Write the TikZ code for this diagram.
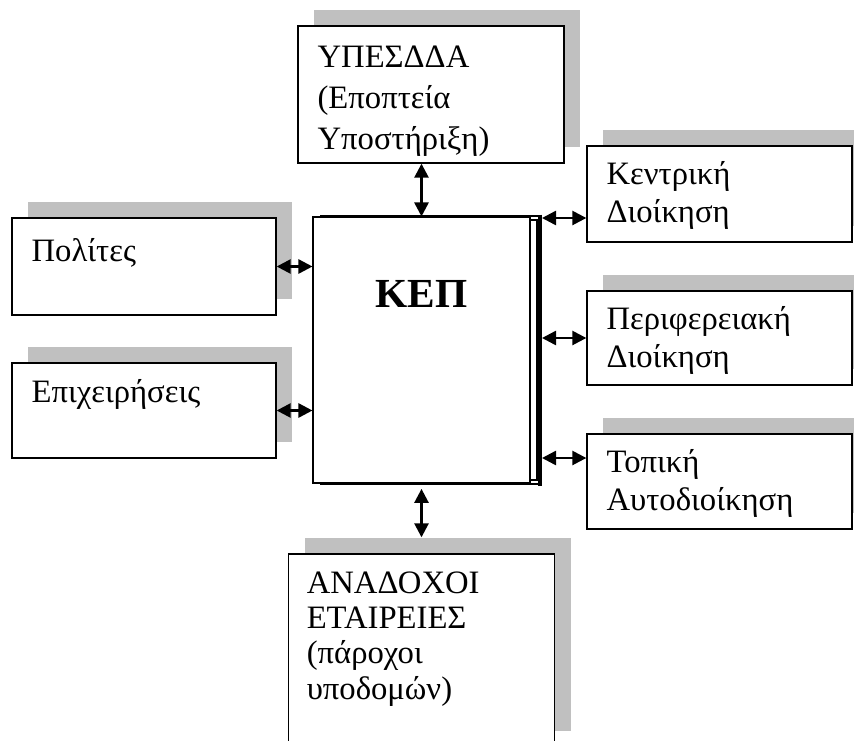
\documentclass[tikz,border=0pt]{standalone}
\usepackage{fontspec}
\setmainfont{Liberation Serif}
\usetikzlibrary{arrows.meta,shadows}
\definecolor{shadowgray}{RGB}{192,192,192}
\tikzset{
  unit/.style={draw=black, line width=1pt, fill=white, inner sep=0pt,
    general shadow={fill=shadowgray, shadow xshift=12pt, shadow yshift=12pt}},
  core/.style={draw=black, line width=0.8pt, fill=white, inner sep=0pt},
  boxtext/.style={anchor=north west, inner sep=0pt, align=left,
    font=\fontsize{24.5}{28.5}\selectfont},
  link/.style={line width=1.9pt,
    {Triangle[length=10.5pt,width=10.5pt]}-{Triangle[length=10.5pt,width=10.5pt]}},
}
\begin{document}
\begin{tikzpicture}[x=0.75pt,y=0.75pt,yscale=-1,xscale=1]
\useasboundingbox (0,0) rectangle (854,740);
\clip (0,0) rectangle (854,740);
%Shape: Main box
\node[core, minimum width=162.75pt, minimum height=199.5pt] (kep) at (421.5,350) {};
\draw[line width=0.8pt] (530,220) rectangle (537,480);
\draw[line width=2.2pt] (320,216) -- (542,216);
\draw[line width=2.2pt] (320,484) -- (542,484);
\draw[line width=3.6pt] (540,214.5) -- (540,485.5);
\node[anchor=base, inner sep=0pt, font=\fontsize{31}{36}\selectfont\bfseries] (kep-t) at (421.5,307) {ΚΕΠ};
%Shape: Top box
\node[unit, minimum width=199.5pt, minimum height=102.75pt] (ypesdda) at (431,94.5) {};
%Shape: Left boxes
\node[unit, minimum width=198pt, minimum height=72.75pt] (polites) at (144,266.5) {};
\node[unit, minimum width=198pt, minimum height=71.25pt] (epix) at (144,410.5) {};
%Shape: Right boxes
\node[unit, minimum width=198.75pt, minimum height=72pt] (kentriki) at (719.5,194) {};
\node[unit, minimum width=198.75pt, minimum height=70.5pt] (perif) at (719.5,338) {};
\node[unit, minimum width=198.75pt, minimum height=71.25pt] (topiki) at (719.5,481.5) {};
%Shape: Bottom box
\node[unit, minimum width=199.5pt, minimum height=144.75pt] (anadoxoi) at (421.5,650.5) {};
% Text Node
\node[boxtext, font=\fontsize{24.5}{31}\selectfont] (ypesdda-t) at ([xshift=15pt,yshift=9.5pt]ypesdda.north west) {\strut ΥΠΕΣΔΔΑ\\(Εποπτεία\\Υποστήριξη)};
\node[boxtext] (polites-t) at ([xshift=15pt,yshift=13pt]polites.north west) {\strut Πολίτες};
\node[boxtext] (epix-t) at ([xshift=15pt,yshift=10pt]epix.north west) {\strut Επιχειρήσεις};
\node[boxtext] (kentriki-t) at ([xshift=15pt,yshift=9.5pt]kentriki.north west) {\strut Κεντρική\\Διοίκηση};
\node[boxtext] (perif-t) at ([xshift=15pt,yshift=9.5pt]perif.north west) {\strut Περιφερειακή\\Διοίκηση};
\node[boxtext] (topiki-t) at ([xshift=15pt,yshift=9.5pt]topiki.north west) {\strut Τοπική\\Αυτοδιοίκηση};
\node[boxtext, font=\fontsize{24.5}{26.5}\selectfont] (anadoxoi-t) at ([xshift=14pt,yshift=11pt]anadoxoi.north west) {\strut ΑΝΑΔΟΧΟΙ\\ΕΤΑΙΡΕΙΕΣ\\(πάροχοι\\υποδομών)};
%Connectors
\coordinate (kepR1) at (542,218);
\coordinate (kepR2) at (542,338);
\coordinate (kepR3) at (542,458);
\draw[link] (kep.north |- ypesdda.south) -- (kep.north);
\draw[link] ([yshift=4pt]kep.south) -- ([yshift=-12pt]anadoxoi.north);
\draw[link] (polites.east) -- (polites.east -| kep.west);
\draw[link] (epix.east) -- (epix.east -| kep.west);
\draw[link] (kepR1) -- (kepR1 -| kentriki.west);
\draw[link] (kepR2) -- (kepR2 -| perif.west);
\draw[link] (kepR3) -- (kepR3 -| topiki.west);
\end{tikzpicture}
\end{document}
